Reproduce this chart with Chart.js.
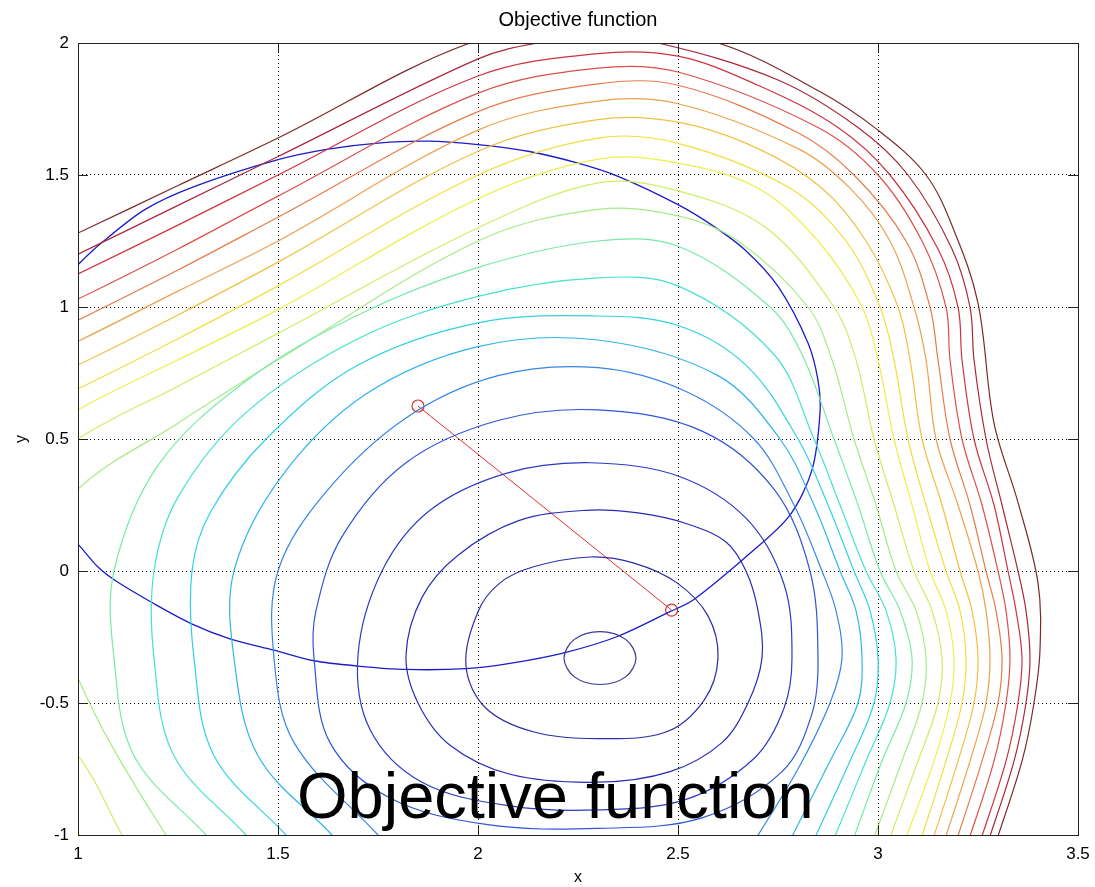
<!DOCTYPE html>
<html>
<head>
<meta charset="utf-8">
<title>Objective function</title>
<script src="https://cdn.jsdelivr.net/npm/chart.js@4.4.0/dist/chart.umd.min.js"></script>
<style>
  html, body { margin: 0; padding: 0; background: #fff; }
  #wrap { width: 1095px; height: 887px; }
</style>
</head>
<body>
<div id="wrap"><canvas id="objChart" width="1095" height="887"></canvas></div>
<script>
// tick labels
const xTicks = [1, 1.5, 2, 2.5, 3, 3.5];
const yTicks = [-1, -0.5, 0, 0.5, 1, 1.5, 2];

// contour lines, inner (1) to outer (21)
// 1-5 are closed loops (first point repeated at the end)
const contour01 = [[2.395,-0.33],[2.369,-0.259],[2.305,-0.23],[2.241,-0.259],[2.215,-0.33],[2.241,-0.401],[2.305,-0.43],[2.369,-0.401],[2.395,-0.33]];
const contour02 = [[2.60,-0.33],[2.575,-0.17],[2.4975,-0.045],[2.39,0.03],[2.28,0.053],[2.137,0.015],[2.055,-0.045],[2.0,-0.154],[1.97,-0.36],[2.02,-0.52],[2.14,-0.61],[2.30,-0.635],[2.47,-0.61],[2.565,-0.49],[2.60,-0.33]];
const contour03 = [[2.71,-0.33],[2.70,-0.15],[2.67,0.0],[2.62,0.11],[2.52,0.18],[2.40,0.22],[2.27,0.23],[2.10,0.19],[1.95,0.06],[1.86,-0.10],[1.82,-0.32],[1.85,-0.50],[1.93,-0.66],[2.08,-0.77],[2.30,-0.80],[2.48,-0.76],[2.61,-0.65],[2.675,-0.50],[2.71,-0.33]];
const contour04 = [[2.785,-0.33],[2.765,-0.05],[2.67,0.20],[2.50,0.36],[2.28,0.41],[2.07,0.37],[1.88,0.23],[1.76,0.0],[1.70,-0.32],[1.73,-0.60],[1.86,-0.80],[2.08,-0.89],[2.30,-0.905],[2.52,-0.865],[2.69,-0.71],[2.765,-0.52],[2.785,-0.33]];
const contour05 = [[2.85,-0.33],[2.83,0.0],[2.74,0.31],[2.56,0.53],[2.30,0.61],[2.05,0.57],[1.82,0.41],[1.66,0.13],[1.595,-0.15],[1.59,-0.33],[1.63,-0.65],[1.78,-0.86],[2.02,-0.96],[2.30,-0.975],[2.56,-0.935],[2.76,-0.76],[2.835,-0.54],[2.85,-0.33]];
// 6-21 run out through the edges of the axes
const contour06 = [[2.68,-1.05],[2.80,-0.75],[2.88,-0.50],[2.91,-0.33],[2.895,-0.15],[2.86,0.0],[2.79,0.25],[2.69,0.50],[2.52,0.68],[2.30,0.77],[2.05,0.74],[1.82,0.58],[1.62,0.30],[1.50,0.0],[1.49,-0.33],[1.54,-0.65],[1.75,-1.0],[1.78,-1.05]];
const contour07 = [[2.77,-1.05],[2.88,-0.72],[2.95,-0.50],[2.96,-0.33],[2.945,-0.15],[2.905,0.0],[2.84,0.25],[2.755,0.50],[2.60,0.74],[2.30,0.875],[2.00,0.85],[1.72,0.67],[1.51,0.36],[1.39,0.0],[1.39,-0.33],[1.45,-0.70],[1.635,-1.0],[1.66,-1.05]];
const contour08 = [[2.83,-1.05],[2.93,-0.72],[2.99,-0.50],[3.00,-0.33],[2.98,-0.15],[2.94,0.0],[2.875,0.25],[2.80,0.50],[2.67,0.78],[2.50,0.93],[2.30,0.966],[2.00,0.94],[1.70,0.78],[1.47,0.50],[1.33,0.22],[1.285,0.0],[1.29,-0.33],[1.34,-0.70],[1.52,-1.0],[1.55,-1.05]];
const contour09 = [[2.88,-1.05],[2.97,-0.72],[3.03,-0.50],[3.045,-0.33],[3.02,-0.15],[2.97,0.0],[2.905,0.25],[2.84,0.50],[2.74,0.82],[2.50,1.08],[2.30,1.11],[2.00,1.04],[1.70,0.88],[1.42,0.60],[1.25,0.28],[1.19,0.0],[1.19,-0.33],[1.24,-0.70],[1.42,-1.0],[1.45,-1.05]];
const contour10 = [[2.93,-1.05],[3.01,-0.72],[3.07,-0.50],[3.085,-0.33],[3.055,-0.15],[3.005,0.0],[2.95,0.25],[2.89,0.50],[2.81,0.82],[2.73,1.0],[2.50,1.23],[2.30,1.25],[2.00,1.15],[1.70,0.97],[1.42,0.72],[1.20,0.40],[1.09,0.0],[1.09,-0.33],[1.14,-0.70],[1.32,-1.0],[1.35,-1.05]];
const contour11 = [[2.98,-1.05],[3.06,-0.72],[3.11,-0.50],[3.12,-0.33],[3.095,-0.15],[3.045,0.0],[2.995,0.25],[2.94,0.50],[2.885,0.80],[2.825,1.0],[2.65,1.25],[2.50,1.345],[2.30,1.37],[2.00,1.25],[1.50,0.80],[1.25,0.56],[1.0,0.31],[0.93,0.1],[0.95,-0.2],[1.0,-0.405],[1.08,-0.65],[1.22,-1.0],[1.25,-1.05]];
const contour12 = [[3.02,-1.05],[3.10,-0.72],[3.15,-0.50],[3.16,-0.33],[3.135,-0.15],[3.09,0.0],[3.04,0.25],[2.99,0.50],[2.945,0.80],[2.89,1.0],[2.72,1.30],[2.50,1.44],[2.30,1.47],[2.00,1.30],[1.50,0.90],[1.25,0.70],[1.0,0.50],[0.85,0.3],[0.85,-0.5],[1.0,-0.70],[1.11,-1.0],[1.13,-1.05]];
const contour13 = [[3.06,-1.05],[3.14,-0.72],[3.18,-0.50],[3.19,-0.33],[3.17,-0.15],[3.13,0.0],[3.085,0.25],[3.04,0.50],[3.0,0.80],[2.96,1.0],[2.85,1.25],[2.70,1.45],[2.50,1.545],[2.30,1.56],[2.00,1.41],[1.50,0.99],[1.25,0.80],[1.0,0.61],[0.8,0.4],[0.8,-0.7],[1.005,-1.0],[1.02,-1.05]];
const contour14 = [[3.10,-1.05],[3.17,-0.72],[3.21,-0.50],[3.22,-0.33],[3.205,-0.15],[3.17,0.0],[3.12,0.25],[3.075,0.50],[3.04,0.80],[3.005,1.0],[2.92,1.25],[2.78,1.45],[2.50,1.62],[2.30,1.64],[2.00,1.50],[1.50,1.08],[1.25,0.88],[1.0,0.69],[0.9,0.62]];
const contour15 = [[3.13,-1.05],[3.20,-0.72],[3.24,-0.50],[3.25,-0.33],[3.235,-0.15],[3.205,0.0],[3.16,0.25],[3.11,0.50],[3.08,0.80],[3.05,1.0],[2.97,1.25],[2.86,1.45],[2.70,1.60],[2.50,1.70],[2.30,1.71],[2.00,1.59],[1.50,1.17],[1.25,0.97],[1.0,0.78],[0.9,0.71]];
const contour16 = [[3.16,-1.05],[3.23,-0.72],[3.27,-0.50],[3.28,-0.33],[3.27,-0.15],[3.25,0.0],[3.20,0.25],[3.145,0.50],[3.12,0.80],[3.09,1.0],[3.03,1.25],[2.93,1.45],[2.80,1.60],[2.50,1.77],[2.30,1.78],[2.00,1.67],[1.50,1.25],[1.25,1.06],[1.0,0.87],[0.9,0.8]];
const contour17 = [[3.19,-1.05],[3.26,-0.72],[3.30,-0.50],[3.31,-0.33],[3.295,-0.15],[3.27,0.0],[3.23,0.25],[3.18,0.50],[3.15,0.80],[3.13,1.0],[3.07,1.25],[2.94,1.50],[2.80,1.66],[2.50,1.84],[2.30,1.845],[2.00,1.74],[1.50,1.34],[1.25,1.14],[1.0,0.95],[0.9,0.88]];
const contour18 = [[3.22,-1.05],[3.29,-0.72],[3.32,-0.50],[3.33,-0.33],[3.32,-0.15],[3.30,0.0],[3.26,0.25],[3.21,0.50],[3.18,0.80],[3.17,1.0],[3.11,1.25],[3.0,1.50],[2.85,1.68],[2.50,1.89],[2.30,1.905],[2.00,1.81],[1.50,1.42],[1.25,1.22],[1.0,1.03],[0.9,0.96]];
const contour19 = [[3.25,-1.05],[3.32,-0.72],[3.35,-0.50],[3.36,-0.33],[3.345,-0.15],[3.325,0.0],[3.29,0.25],[3.24,0.50],[3.21,0.80],[3.20,1.0],[3.15,1.22],[3.03,1.50],[2.90,1.68],[2.70,1.84],[2.50,1.95],[2.30,1.96],[2.00,1.875],[1.50,1.50],[1.25,1.31],[1.0,1.125],[0.9,1.05]];
const contour20 = [[3.27,-1.05],[3.34,-0.72],[3.37,-0.50],[3.38,-0.33],[3.37,-0.15],[3.35,0.0],[3.31,0.25],[3.27,0.50],[3.24,0.80],[3.23,1.0],[3.185,1.22],[3.075,1.50],[2.95,1.68],[2.75,1.86],[2.45,2.0],[2.30,2.02],[2.15,2.0],[2.00,1.94],[1.50,1.57],[1.25,1.385],[1.0,1.20],[0.9,1.13]];
const contour21 = [[3.29,-1.05],[3.36,-0.72],[3.39,-0.50],[3.405,-0.30],[3.40,-0.045],[3.35,0.26],[3.29,0.56],[3.25,1.015],[3.19,1.29],[3.12,1.50],[3.0,1.67],[2.85,1.82],[2.60,2.0],[2.30,2.08],[1.98,2.0],[1.50,1.64],[1.25,1.46],[1.0,1.28],[0.9,1.21]];

const contours = [contour01, contour02, contour03, contour04, contour05, contour06, contour07,
  contour08, contour09, contour10, contour11, contour12, contour13, contour14,
  contour15, contour16, contour17, contour18, contour19, contour20, contour21];
const closedCount = 5;

// jet-like colours, one per level
const levelColors = ['#3a3a96','#2c2caa','#2a2ab8','#2c3ac4','#2f55d4','#3585e6','#2fb4ea',
  '#2fd2e2','#45e2cc','#78eaa8','#a6ec84','#cdee62','#ecf04a','#f3de3c',
  '#f2c040','#eda04a','#e67a4a','#dc5046','#cc3340','#a82838','#7a2a2a'];

// trust region boundary
const trustRegion = [[0.97,0.145],[1.0,0.102],[1.05,0.015],[1.097,-0.04],[1.188,-0.122],[1.284,-0.2],[1.38,-0.257],[1.49,-0.30],[1.59,-0.34],[1.70,-0.36],[1.82,-0.373],[1.97,-0.37],[2.08,-0.35],[2.215,-0.31],[2.347,-0.249],[2.48,-0.154],[2.538,-0.11],[2.68,0.067],[2.78,0.212],[2.835,0.383],[2.855,0.60],[2.85,0.723],[2.825,0.864],[2.75,1.078],[2.667,1.217],[2.583,1.312],[2.50,1.388],[2.35,1.495],[2.25,1.545],[2.125,1.59],[2.0,1.615],[1.875,1.628],[1.75,1.621],[1.625,1.598],[1.50,1.558],[1.292,1.457],[1.167,1.369],[1.058,1.242],[1.0,1.16],[0.97,1.11]];

// step from the current point to the trial point
const stepX = [1.85, 2.484];
const stepY = [0.625, -0.148];

const chartTitle = 'Objective function';
const toXY = arr => arr.map(p => ({x: p[0], y: p[1]}));
const fontFamily = "'Liberation Sans', Arial, sans-serif";
const clear = 'rgba(0,0,0,0)';

const datasets = contours.map((c, i) => {
    const closed = i < closedCount;
    // closed loops get one extra point on each end so the spline runs smoothly
    // through the join; the two extra segments are not stroked
    const pts = closed ? [c[c.length - 2]].concat(c, [c[1]]) : c;
    const last = pts.length - 1;
    const ds = {
        label: 'level ' + (i + 1),
        data: toXY(pts),
        borderColor: levelColors[i],
        borderWidth: 1.2,
        pointRadius: 0,
        tension: 0.35,
        showLine: true,
        fill: false
    };
    if (closed) {
        ds.segment = {
            borderColor: ctx => (ctx.p0DataIndex === 0 || ctx.p1DataIndex === last) ? clear : levelColors[i]
        };
    }
    return ds;
});

datasets.push({
    label: 'trust region',
    data: toXY(trustRegion),
    borderColor: '#1c1cc8',
    borderWidth: 1.3,
    pointRadius: 0,
    tension: 0.3,
    showLine: true,
    fill: false
});

datasets.push({
    label: 'step',
    data: stepX.map((x, i) => ({x: x, y: stepY[i]})),
    borderColor: '#e03030',
    borderWidth: 1,
    pointRadius: 6,
    pointBorderColor: '#d83030',
    pointBackgroundColor: clear,
    pointBorderWidth: 1.2,
    showLine: true,
    fill: false
});

// box around the axes, inward ticks, the title and the big caption
const framePlugin = {
    id: 'frame',
    afterDatasetsDraw(chart) {
        const {ctx, chartArea: a, scales} = chart;
        ctx.save();
        ctx.strokeStyle = '#222';
        ctx.lineWidth = 1;
        ctx.beginPath();
        xTicks.forEach(v => {
            const px = Math.round(scales.x.getPixelForValue(v)) + 0.5;
            ctx.moveTo(px, a.bottom); ctx.lineTo(px, a.bottom - 10);
            ctx.moveTo(px, a.top); ctx.lineTo(px, a.top + 10);
        });
        yTicks.forEach(v => {
            const py = Math.round(scales.y.getPixelForValue(v)) + 0.5;
            ctx.moveTo(a.left, py); ctx.lineTo(a.left + 10, py);
            ctx.moveTo(a.right, py); ctx.lineTo(a.right - 10, py);
        });
        ctx.stroke();
        ctx.strokeRect(Math.round(a.left) + 0.5, Math.round(a.top) + 0.5,
            Math.round(a.right - a.left), Math.round(a.bottom - a.top));
        ctx.restore();
    },
    afterDraw(chart) {
        const {ctx, chartArea: a} = chart;
        ctx.save();
        ctx.fillStyle = '#000';
        // title centred over the axes
        ctx.font = '20px ' + fontFamily;
        ctx.textAlign = 'center';
        ctx.textBaseline = 'middle';
        ctx.fillText(chartTitle, (a.left + a.right) / 2, 20);
        // large caption over the plot
        ctx.font = '65px ' + fontFamily;
        ctx.textAlign = 'left';
        ctx.textBaseline = 'alphabetic';
        ctx.fillText(chartTitle, 297, 818);
        ctx.restore();
    }
};

new Chart(document.getElementById('objChart').getContext('2d'), {
    type: 'scatter',
    data: { datasets: datasets },
    options: {
        responsive: false,
        animation: false,
        events: [],
        layout: { padding: { left: 0, right: 17, top: 43, bottom: 0 } },
        elements: { line: { capBezierPoints: false } },
        plugins: {
            legend: { display: false },
            tooltip: { enabled: false },
            title: { display: false }
        },
        scales: {
            x: {
                type: 'linear',
                min: 1,
                max: 3.5,
                afterBuildTicks: s => { s.ticks = xTicks.map(v => ({value: v})); },
                afterFit: s => { s.height = 52; s.paddingLeft = 0; s.paddingRight = 0; },
                ticks: { color: '#000', padding: 9, font: { family: fontFamily, size: 17 },
                         callback: v => String(v) },
                grid: { color: '#000', lineWidth: 1, drawTicks: false },
                border: { display: false, dash: [1, 3] },
                title: { display: true, text: 'x', color: '#000', padding: { top: 0, bottom: 0 },
                         font: { family: fontFamily, size: 16 } }
            },
            y: {
                type: 'linear',
                min: -1,
                max: 2,
                afterBuildTicks: s => { s.ticks = yTicks.map(v => ({value: v})); },
                afterFit: s => { s.width = 78; s.paddingTop = 0; s.paddingBottom = 0; },
                ticks: { color: '#000', padding: 9, font: { family: fontFamily, size: 17 },
                         callback: v => String(v) },
                grid: { color: '#000', lineWidth: 1, drawTicks: false },
                border: { display: false, dash: [1, 3] },
                title: { display: true, text: 'y', color: '#000', padding: { top: 12, bottom: 0 },
                         font: { family: fontFamily, size: 16 } }
            }
        }
    },
    plugins: [framePlugin]
});
</script>
</body>
</html>
